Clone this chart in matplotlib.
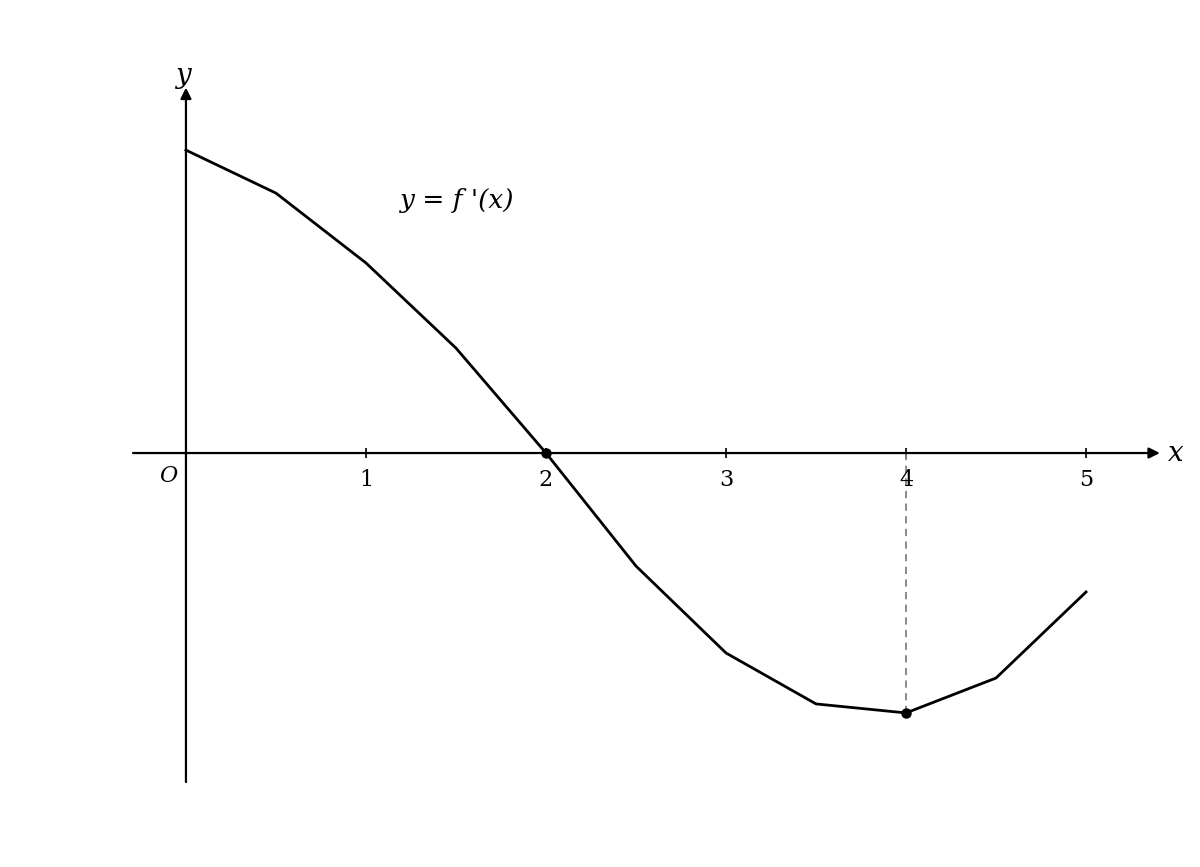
import matplotlib.pyplot as plt

# f'(x) の値
xs = [0, 0.5, 1, 1.5, 2, 2.5, 3, 3.5, 4, 4.5, 5]
ys = [1.683, 1.444, 1.056, 0.583, 0.0, -0.628, -1.111, -1.394, -1.444, -1.25, -0.772]
tick_vals = [1, 2, 3, 4, 5]
dot_x = [2, 4]
dot_y = [0.0, -1.444]

plt.rcParams['font.family'] = ['DejaVu Serif']

fig = plt.figure(figsize=(12, 8.67), dpi=100)
ax = fig.add_axes([0, 0, 1, 1])
ax.set_xlim(-1.033, 5.633)
ax.set_ylim(-2.3, 2.517)
ax.axis('off')

# 座標軸（矢印つき）
arrow = dict(arrowstyle='-|>', color='black', lw=1.6, mutation_scale=16, shrinkA=0, shrinkB=0)
ax.annotate('', xy=(5.41, 0), xytext=(-0.294, 0), arrowprops=arrow)
ax.annotate('', xy=(0, 2.03), xytext=(0, -1.828), arrowprops=arrow)

# 目盛り
ax.vlines(tick_vals, -0.028, 0.028, color='black', lw=1.2)
for t in tick_vals:
    ax.text(t, -0.148, str(t), ha='center', va='center', fontsize=16)

ax.text(-0.1, -0.13, 'O', ha='center', va='center', fontsize=16, style='italic')
ax.text(5.5, 0.0, 'x', ha='center', va='center', fontsize=20, style='italic')
ax.text(-0.02, 2.1, 'y', ha='center', va='center', fontsize=20, style='italic')

# 曲線
ax.plot(xs, ys, color='black', lw=2.0)
ax.plot([4, 4], [0, dot_y[1]], color='gray', lw=1.3, linestyle=(0, (4, 3)))
ax.plot(dot_x, dot_y, 'o', color='black', markersize=6.5)

ax.text(1.19, 1.403, "y = f '(x)", ha='left', va='center', fontsize=19, style='italic')

fig.savefig('out.png', dpi=100)
